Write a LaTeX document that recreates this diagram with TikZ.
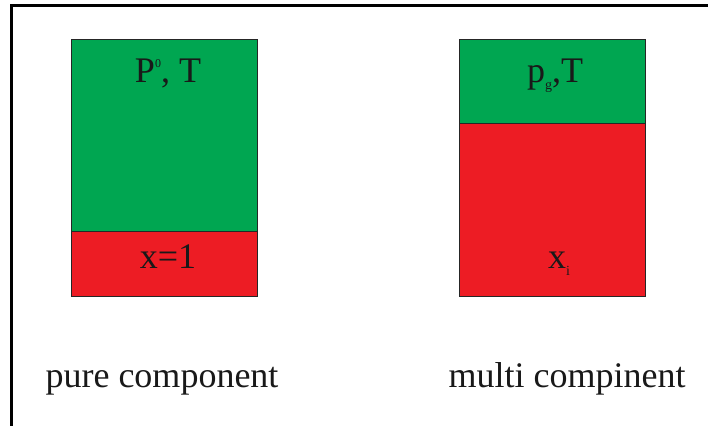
\documentclass[tikz,border=0pt]{standalone}
\usepackage{fontspec}
\setmainfont{Liberation Serif}
\definecolor{gasgreen}{RGB}{0,166,81}
\definecolor{liqred}{RGB}{237,28,36}
\newcommand{\smallsup}[1]{\raisebox{15pt}{\fontsize{12}{12}\selectfont #1}}
\newcommand{\smallsub}[1]{\raisebox{-7pt}{\fontsize{14}{14}\selectfont #1}}
\begin{document}
\begin{tikzpicture}[x={(1pt,0)},y={(0,-1pt)},
  phase/.style={draw=black!85,line width=0.8pt},
  lbl/.style={anchor=base,inner sep=0pt,font=\fontsize{36}{40}\selectfont,text=black!90}]
\useasboundingbox (0,0) rectangle (708,425);
\fill[white] (0,0) rectangle (708,425);
% outer frame (cropped at right and bottom)
\draw[line width=2.6pt] (11.5,430) -- (11.5,5.8) -- (715,5.8);
% left container
\filldraw[phase,fill=gasgreen] (71,39) rectangle (257,231);
\filldraw[phase,fill=liqred] (71,231) rectangle (257,296);
% right container
\filldraw[phase,fill=gasgreen] (459,39) rectangle (645,123);
\filldraw[phase,fill=liqred] (459,123) rectangle (645,296);
% labels
\node[lbl] (p0) at (168,83) {P\smallsup{0}, T};
\node[lbl] (x1) at (168,268) {x=1};
\node[lbl] (pg) at (555,83) {p\smallsub{g},T};
\node[lbl] (xi) at (559,268) {x\smallsub{i}};
\node[lbl] (pure) at (162,387) {pure component};
\node[lbl] (multi) at (567,387) {multi compinent};
\end{tikzpicture}
\end{document}
